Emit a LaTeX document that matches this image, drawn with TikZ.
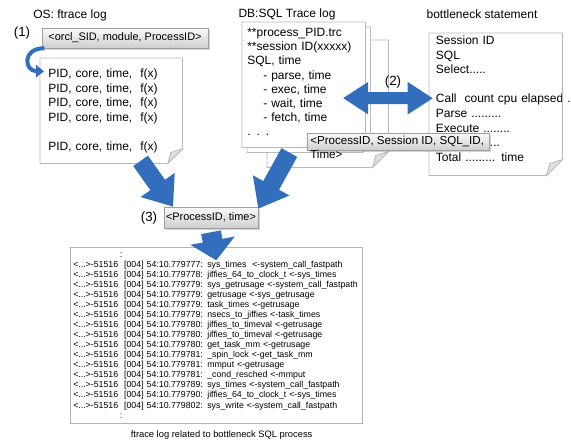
\documentclass[tikz,border=0pt]{standalone}
\usepackage{fontspec}
\setmainfont{Liberation Sans}
\usetikzlibrary{positioning,arrows.meta,shadows}

\definecolor{arrowblue}{RGB}{50,110,188}
\definecolor{docgray}{RGB}{185,185,185}

% outline of a sheet with a folded bottom right corner
\newcommand\foldframe[2]{%
  \draw[docline] (#1.north west) -- (#1.north east) -- ([yshift=#2]#1.south east)
    -- ([xshift=-#2]#1.south east) -- (#1.south west) -- cycle;
  \filldraw[docline,fill=gray!25] ([yshift=#2]#1.south east) -- ([xshift=-#2]#1.south east)
    -- ([xshift=-0.8*#2,yshift=0.75*#2]#1.south east) -- cycle;
}
% one line of the ftrace listing
\newcommand\trline[2]{<...>-51516\ \ [004] 54:10.779#1: #2}

\tikzset{
  title/.style={font=\fontsize{9}{11}\selectfont, inner sep=0pt},
  stepno/.style={font=\fontsize{10}{12}\selectfont, inner sep=0pt},
  doc/.style={fill=white, anchor=north west, align=left, inner xsep=4pt,
    font=\fontsize{9}{10.9}\selectfont},
  docline/.style={draw=docgray, line width=0.6pt},
  keybox/.style={draw=gray!75, top color=gray!4, bottom color=gray!38,
    drop shadow={shadow xshift=1.2pt, shadow yshift=-1.2pt, opacity=0.35},
    font=\fontsize{8.2}{10}\selectfont, inner sep=0pt},
  fatarrow/.style={arrowblue, line width=13.5pt, -{Triangle[width=30pt,length=20pt]}},
  downarrow/.style={arrowblue, line width=15pt, -{Triangle[width=33pt,length=15pt]}},
  dblarrow/.style={arrowblue, line width=9pt,
    {Triangle[width=23pt,length=19pt]}-{Triangle[width=23pt,length=19pt]}},
  curvearrow/.style={arrowblue, line width=3pt, -{Triangle[width=9pt,length=6pt]}},
}

\begin{document}
\begin{tikzpicture}[x=0.75pt,y=-0.75pt]
  \useasboundingbox (0,0) rectangle (571,441);

  \node[title] (ostitle) at (70,15) {OS:\ ftrace log};
  \node[title] (dbtitle) at (287,14) {DB:SQL Trace log};
  \node[title] (sttitle) at (482,14) {bottleneck statement};

  % OS side
  \node[doc, inner xsep=6pt, text width=94.5pt, minimum height=78.75pt] (pidlog) at (40,58)
    {PID, core, time,\ \ f(x)\\PID, core, time,\ \ f(x)\\PID, core, time,\ \ f(x)\\
     PID, core, time,\ \ f(x)\\[10.9pt]PID, core, time,\ \ f(x)};
  \foldframe{pidlog}{11pt}
  \node[keybox, minimum width=124.5pt, minimum height=15pt] (orcl) at (125,38)
    {<orcl\_SID, module, ProcessID>};
  \node[stepno] (step1) at (22,33) {(1)};
  \draw[curvearrow] ([xshift=2pt]orcl.south west) .. controls (22,48) and (24,71)
    .. ([xshift=3pt,yshift=-10pt]pidlog.north west);

  % DB side, stack of trace files
  \node[doc, minimum width=90.75pt, minimum height=95.25pt] (dbback) at (267,40) {};
  \foldframe{dbback}{12pt}
  \node[doc, minimum width=92.25pt, minimum height=93.75pt] (dbmid) at (247,27) {};
  \foldframe{dbmid}{6pt}
  \node[doc, inner xsep=3.75pt, text width=84.75pt, minimum height=93.75pt,
    font=\fontsize{9}{10.65}\selectfont] (dbfront) at (242,22)
    {**process\_PID.trc\\***session ID(xxxxx)\\SQL, time\\
     \hspace*{12pt}- parse, time\\\hspace*{12pt}- exec, time\\
     \hspace*{12pt}- wait, time\\\hspace*{12pt}- fetch, time\\. . .\rule[-4pt]{0pt}{4pt}};
  \foldframe{dbfront}{6pt}

  \node[doc, inner xsep=5pt, inner ysep=1pt, text width=89.75pt, minimum height=106.5pt] (stmt) at (429,33)
    {Session ID\\SQL\\Select.....\\[10.9pt]\mbox{Call\ \ count cpu elapsed .}\\
     Parse .........\\Execute ........\\Fetch .........\\
     Total ......... time\rule[-8.5pt]{0pt}{8.5pt}};
  \foldframe{stmt}{12pt}

  \draw[dblarrow] ([xshift=-17pt,yshift=-10pt]dbfront.east) -- ([xshift=3pt,yshift=4.5pt]stmt.west);
  \node[stepno] (step2) at (393,82) {(2)};

  \node[keybox, minimum width=136.5pt, minimum height=12.75pt, anchor=north west] (sqlid) at (307,133) {};
  \node[font=\fontsize{8.7}{10.5}\selectfont, align=left, inner sep=0pt, anchor=north west]
    (sqlidtext) at (310,136) {<ProcessID, Session ID, SQL\_ID,\\Time>};

  % join
  \node[keybox, minimum width=70.5pt, minimum height=15.75pt] (pidtime) at (211,217.5)
    {<ProcessID, time>};
  \node[stepno] (step3) at (149,218) {(3)};

  \node[draw=gray!60, fill=white, anchor=north west, minimum height=132pt, align=left,
    inner xsep=2.25pt, text width=214.5pt, font=\fontsize{6.6}{7.55}\selectfont] (ftracelog) at (70,247)
    {\hspace*{35pt}:\\
     \trline{777}{sys\_times \ <-system\_call\_fastpath}\\
     \trline{778}{jiffies\_64\_to\_clock\_t <-sys\_times}\\
     \trline{779}{sys\_getrusage <-system\_call\_fastpath}\\
     \trline{779}{getrusage <-sys\_getrusage}\\
     \trline{779}{task\_times <-getrusage}\\
     \trline{779}{nsecs\_to\_jiffies <-task\_times}\\
     \trline{780}{jiffies\_to\_timeval <-getrusage}\\
     \trline{780}{jiffies\_to\_timeval <-getrusage}\\
     \trline{780}{get\_task\_mm <-getrusage}\\
     \trline{781}{\_spin\_lock <-get\_task\_mm}\\
     \trline{781}{mmput <-getrusage}\\
     \trline{781}{\_cond\_resched <-mmput}\\
     \trline{789}{sys\_times <-system\_call\_fastpath}\\
     \trline{790}{jiffies\_64\_to\_clock\_t <-sys\_times}\\
     \trline{802}{sys\_write <-system\_call\_fastpath}\\
     \hspace*{35pt}:};
  \node[font=\fontsize{7}{8}\selectfont, inner sep=0pt, below=5pt of ftracelog, xshift=4pt] (caption)
    {ftrace log related to bottleneck SQL process};

  \draw[fatarrow] ([xshift=22pt,yshift=2pt]pidlog.south) -- ([xshift=7pt]pidtime.north west);
  \draw[fatarrow] ([xshift=-14.6pt]dbmid.south) -- ([yshift=-1.5pt]pidtime.north east);
  \draw[downarrow] ([yshift=-3pt]pidtime.south) -- ([yshift=-10pt]ftracelog.north);
\end{tikzpicture}
\end{document}
